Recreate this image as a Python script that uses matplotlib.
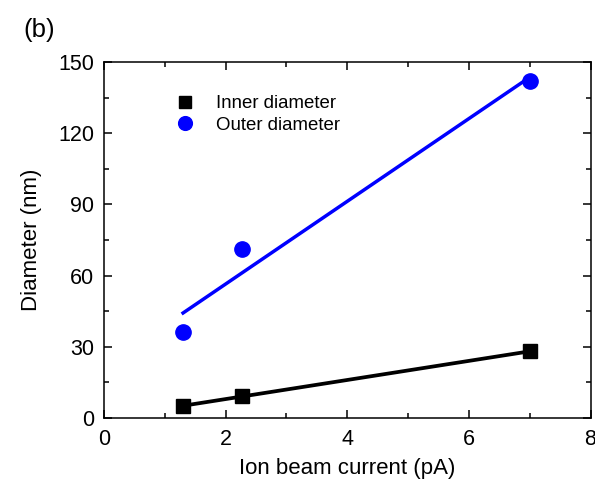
import numpy as np
import matplotlib
matplotlib.use("Agg")
import matplotlib.pyplot as plt
from matplotlib.ticker import MultipleLocator

plt.rcParams['font.family'] = ['Liberation Sans', 'DejaVu Sans']

current = [1.3, 2.27, 7.0]
inner = [5, 9, 28]
outer = [36, 71, 142]

fig = plt.figure(figsize=(5.95, 4.88), dpi=100)
ax = fig.add_axes([104/595, 1-417.7/488, (590.5-104)/595, (417.7-62.3)/488])

xs = np.array([min(current), max(current)])
pi = np.polyfit(current, inner, 1)
po = np.polyfit(current, outer, 1)
ax.plot(xs, np.polyval(pi, xs), color='black', lw=2.7, zorder=2)
ax.plot(xs, np.polyval(po, xs), color='#0000ff', lw=2.5, zorder=2)
ax.plot(current, inner, 's', color='black', ms=9.8, ls='none', label='Inner diameter', zorder=3)
ax.plot(current, outer, 'o', color='#0000ff', ms=11, ls='none', label='Outer diameter', zorder=3)

ax.set_xlim(0, 8)
ax.set_ylim(0, 150)
ax.xaxis.set_major_locator(MultipleLocator(2))
ax.xaxis.set_minor_locator(MultipleLocator(1))
ax.yaxis.set_major_locator(MultipleLocator(30))
ax.yaxis.set_minor_locator(MultipleLocator(15))
ax.tick_params(which='both', direction='in', top=True, right=True, width=1.1, labelsize=15.5)
ax.tick_params(axis='x', pad=8)
ax.tick_params(axis='y', pad=7)
ax.tick_params(which='major', length=6)
ax.tick_params(which='minor', length=3.5)
for s in ax.spines.values():
    s.set_linewidth(1.1)

ax.set_xlabel('Ion beam current (pA)', fontsize=16, labelpad=6)
ax.set_ylabel('Diameter (nm)', fontsize=16, labelpad=12)

ax.legend(loc='upper left', bbox_to_anchor=(0.115, 0.955), frameon=False, fontsize=13.4,
          handlelength=0.9, handletextpad=1.2, labelspacing=0.25, markerscale=0.9)

fig.text(23/595, 1-30/488, '(b)', fontsize=18.5, va='center', ha='left')

fig.savefig('out.png', dpi=100)
